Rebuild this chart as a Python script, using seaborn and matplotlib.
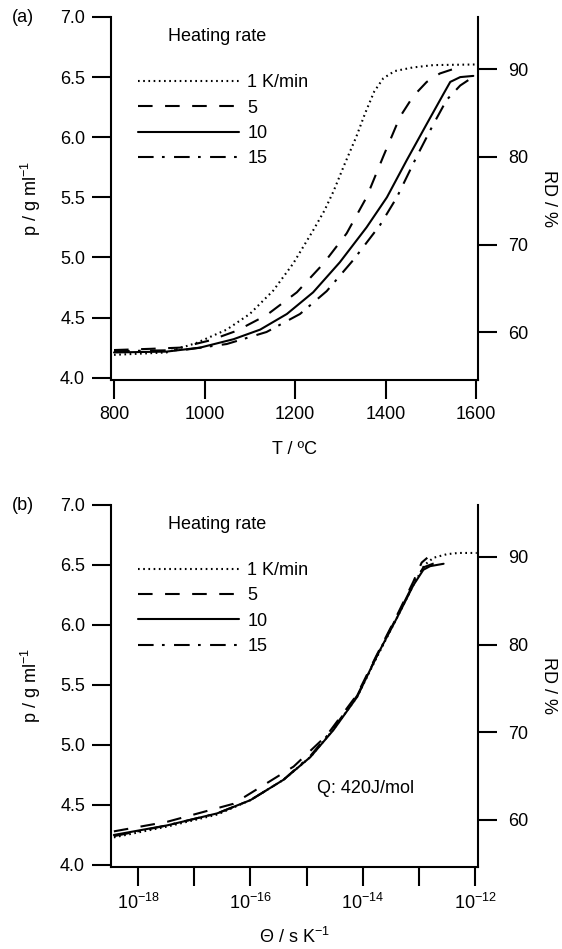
import math
import matplotlib
matplotlib.use("Agg")
import matplotlib.pyplot as plt
from matplotlib.ticker import FixedLocator, FuncFormatter, NullLocator
import pandas as pd
import seaborn as sns

RATES = ["1 K/min", "5", "10", "15"]
DASHES = {"1 K/min": (0.8, 1.7), "5": (7, 6), "10": "", "15": (7.5, 4, 1.3, 4.5)}

# (a) density vs temperature, one list pair per heating rate
T_1 = [800, 916, 983, 1049, 1100, 1152, 1196, 1240, 1265, 1285, 1310, 1335, 1355, 1375, 1395, 1420, 1460, 1506, 1600]
RHO_T_1 = [4.19, 4.21, 4.29, 4.40, 4.53, 4.725, 4.95, 5.225, 5.39, 5.55, 5.78, 6.0, 6.2, 6.38, 6.49, 6.55, 6.58, 6.60, 6.605]
T_5 = [800, 880, 946, 1012, 1071, 1137, 1204, 1263, 1314, 1358, 1395, 1432, 1461, 1491, 1520, 1560]
RHO_T_5 = [4.23, 4.24, 4.25, 4.31, 4.39, 4.52, 4.71, 4.95, 5.20, 5.50, 5.84, 6.17, 6.34, 6.46, 6.53, 6.58]
T_10 = [800, 916, 990, 1064, 1123, 1182, 1240, 1299, 1358, 1403, 1447, 1491, 1528, 1543, 1565, 1594]
RHO_T_10 = [4.21, 4.217, 4.25, 4.32, 4.40, 4.53, 4.71, 4.96, 5.25, 5.50, 5.81, 6.11, 6.36, 6.46, 6.50, 6.51]
T_15 = [800, 953, 1049, 1137, 1211, 1270, 1329, 1388, 1425, 1469, 1506, 1535, 1565, 1585, 1598]
RHO_T_15 = [4.22, 4.23, 4.28, 4.38, 4.53, 4.72, 4.98, 5.27, 5.50, 5.84, 6.11, 6.31, 6.43, 6.48, 6.50]

# (b) density vs work of sintering, x given as log10(Theta)
LT_1 = [-18.43, -17.48, -16.59, -16.0, -15.41, -14.93, -14.52, -14.10, -13.75, -13.39, -13.10, -12.90, -12.74, -12.50, -12.30, -11.97]
RHO_L_1 = [4.23, 4.32, 4.42, 4.54, 4.71, 4.90, 5.13, 5.40, 5.73, 6.06, 6.33, 6.50, 6.56, 6.59, 6.60, 6.60]
LT_5 = [-18.43, -17.48, -16.30, -15.23, -14.64, -14.10, -13.75, -13.39, -13.10, -12.95, -12.85]
RHO_L_5 = [4.28, 4.36, 4.51, 4.82, 5.08, 5.42, 5.75, 6.08, 6.36, 6.52, 6.56]
LT_10 = [-18.43, -17.48, -16.59, -16.0, -15.41, -14.93, -14.52, -14.10, -13.75, -13.39, -13.10, -12.92, -12.80, -12.56]
RHO_L_10 = [4.25, 4.33, 4.43, 4.54, 4.71, 4.90, 5.125, 5.40, 5.74, 6.06, 6.33, 6.46, 6.49, 6.51]
LT_15 = [-18.43, -17.48, -16.59, -16.0, -15.41, -14.93, -14.52, -14.10, -13.75, -13.39, -13.10, -12.92, -12.75, -12.60]
RHO_L_15 = [4.24, 4.33, 4.43, 4.54, 4.71, 4.91, 5.14, 5.41, 5.74, 6.07, 6.34, 6.48, 6.51, 6.53]

RHO_THEORY = 7.296  # g/ml at RD = 100 %
RHO_TICKS = [4.0, 4.5, 5.0, 5.5, 6.0, 6.5, 7.0]
RD_TICKS = [60, 70, 80, 90]
T_TICKS = [800, 1000, 1200, 1400, 1600]
LOG_TICKS = [-18, -17, -16, -15, -14, -13, -12]
Q_LABEL = "Q: 420J/mol"


def long_form(xs, ys, xname):
    parts = []
    for rate, x, y in zip(RATES, xs, ys):
        parts.append(pd.DataFrame({xname: x, "rho": y, "rate": rate}))
    return pd.concat(parts, ignore_index=True)


def log_label(v, pos):
    e = round(math.log10(v))
    return f"$10^{{{e}}}$" if e % 2 == 0 else ""


df_a = long_form([T_1, T_5, T_10, T_15], [RHO_T_1, RHO_T_5, RHO_T_10, RHO_T_15], "T")
df_b = long_form([LT_1, LT_5, LT_10, LT_15], [RHO_L_1, RHO_L_5, RHO_L_10, RHO_L_15], "logth")
df_b["theta"] = 10.0 ** df_b["logth"]

sns.set_style("ticks")
plt.rcParams["font.family"] = ["Liberation Sans", "DejaVu Sans"]
plt.rcParams["mathtext.default"] = "regular"
plt.rcParams["font.size"] = 13
for key in ("text.color", "axes.labelcolor", "xtick.color", "ytick.color", "axes.edgecolor"):
    plt.rcParams[key] = "black"

fig = plt.figure(figsize=(5.62, 9.49), dpi=100)
ax_a = fig.add_axes([0.197, 0.5996, 0.6536, 0.3825])
ax_b = fig.add_axes([0.197, 0.0864, 0.6536, 0.3815])


def style_axes(ax):
    ax.spines["top"].set_visible(False)
    ax.spines["right"].set_visible(False)
    for s in ("left", "bottom"):
        ax.spines[s].set_linewidth(1.5)
    ax.tick_params(length=13.5, width=1.5, pad=5, labelsize=13, direction="out")
    ax.set_yticks(RHO_TICKS)
    ax.yaxis.set_major_formatter(FuncFormatter(lambda v, p: f"{v:.1f}"))
    ax.set_ylabel("p / g ml$^{-1}$", fontsize=13, labelpad=12)
    sec = ax.secondary_yaxis("right", functions=(lambda r: r * 100 / RHO_THEORY,
                                                 lambda d: d * RHO_THEORY / 100))
    sec.set_yticks(RD_TICKS)
    sec.spines["right"].set_linewidth(1.5)
    sec.tick_params(length=13.5, width=1.5, pad=8, labelsize=13)
    sec.set_ylabel("RD / %", fontsize=13, rotation=270, labelpad=21)
    ax.legend(ax.get_lines()[:4], RATES, loc="upper left", bbox_to_anchor=(0.074, 0.842),
              frameon=False, handlelength=5.6, handletextpad=0.45, labelspacing=0.46,
              borderpad=0, borderaxespad=0, fontsize=13)
    ax.text(0.156, 0.946, "Heating rate", transform=ax.transAxes, va="center", fontsize=13)


sns.lineplot(data=df_a, x="T", y="rho", style="rate", style_order=RATES, dashes=DASHES,
             color="black", lw=1.5, estimator=None, sort=False, legend=False, ax=ax_a)
ax_a.set_xlim(792.7, 1604.4)
ax_a.set_ylim(3.981, 7.0)
ax_a.set_xticks(T_TICKS)
ax_a.set_xlabel("T / ºC", fontsize=13, labelpad=13)
style_axes(ax_a)

sns.lineplot(data=df_b, x="theta", y="rho", style="rate", style_order=RATES, dashes=DASHES,
             color="black", lw=1.5, estimator=None, sort=False, legend=False, ax=ax_b)
ax_b.set_xscale("log")
ax_b.set_xlim(10 ** -18.486, 10 ** -11.947)
ax_b.set_ylim(3.983, 7.0)
ax_b.xaxis.set_major_locator(FixedLocator([10.0 ** e for e in LOG_TICKS]))
ax_b.xaxis.set_minor_locator(NullLocator())
ax_b.xaxis.set_major_formatter(FuncFormatter(log_label))
ax_b.set_xlabel("Θ / s K$^{-1}$", fontsize=13, labelpad=10)
style_axes(ax_b)
ax_b.text(10 ** -14.81, 4.64, Q_LABEL, va="center", fontsize=13)

fig.text(0.022, 1 - 17 / 949, "(a)", va="center", fontsize=13)
fig.text(0.022, 1 - 505 / 949, "(b)", va="center", fontsize=13)

fig.savefig("out.png", dpi=100)
